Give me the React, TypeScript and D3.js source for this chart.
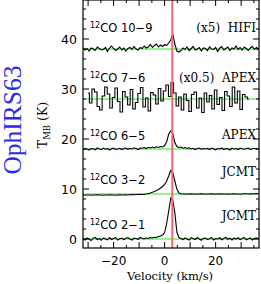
import React from 'react';
import * as d3 from 'd3';

// channel grids (km/s)
const V0 = -32;
const DV = 0.8;
const V0_76 = -30;
const DV_76 = 1.0;

const offsets = [38, 28, 18, 9, 0];

const co109 = [
  0.3, -0.2, 0.1, -0.4, 0.2, 0.0, -0.3, 0.4, 0.1, -0.2,
  -0.1, 0.3, -0.5, 0.2, 0.6, 0.1, -0.3, 0.0, 0.4, -0.2,
  0.2, -0.4, 0.1, 0.3, -0.1, 0.5, 0.0, -0.2, 0.3, 0.1,
  0.6, 0.2, 0.4, 0.9, 0.3, 0.7, 1.0, 0.4, 0.8, 0.5,
  0.9, 0.7, 1.2, 1.8, 3.0, 1.0, -0.4, -0.6, -0.3, 0.2,
  -0.1, 0.4, -0.3, 0.1, 0.5, -0.2, 0.0, 0.3, -0.4, 0.2,
  0.1, -0.3, 0.4, 0.0, -0.1, 0.3, -0.5, 0.2, 0.5, -0.2,
  0.1, 0.4, -0.3, 0.2, 0.0, 0.6, -0.1, 0.3, -0.2, 0.4,
  0.1, -0.3, 0.2, 0.5, -0.1, 0.3, 0.0,
];

const co76 = [
  1.2, -0.8, 2.0, 1.4, -1.5, -2.2, 0.6, 2.4, 1.0, -1.8,
  0.3, 2.2, -0.5, -2.6, 1.5, 0.4, -1.2, 1.9, -2.0, -0.7,
  1.1, 2.3, -1.6, 0.2, -2.4, 1.3, 0.8, -1.0, 2.1, -0.4,
  1.6, 2.8, 0.5, 3.3, 1.2, -1.4, 0.4, -2.2, 1.0, -0.3,
  -2.5, 0.9, 1.4, -1.8, 0.2, -2.7, 1.2, -0.6, 0.7, -2.0,
  1.8, -1.1, 0.3, -2.3, 1.5, 0.6, -1.5, 2.4, -0.8, 1.6,
  -2.1, 0.9, 0.4, 0.0,
];

const co65 = [
  -0.1, 0.1, 0.0, -0.2, 0.1, 0.05, -0.15, 0.2, 0.0, -0.1,
  0.15, -0.05, 0.1, -0.2, 0.05, 0.2, -0.1, 0.0, 0.15, -0.1,
  0.1, 0.2, -0.05, 0.15, 0.0, 0.25, 0.1, -0.1, 0.2, 0.15,
  0.3, 0.1, 0.35, 0.2, 0.4, 0.25, 0.45, 0.3, 0.5, 0.4,
  0.7, 1.4, 3.0, 3.6, 3.1, 1.3, 0.5, 0.3, 0.4, 0.15,
  0.3, 0.1, 0.25, 0.0, 0.15, -0.1, 0.1, 0.2, -0.05, 0.1,
  0.0, 0.15, -0.1, 0.2, 0.05, -0.15, 0.1, 0.0, 0.2, -0.1,
  0.1, 0.05, -0.2, 0.15, 0.0, 0.1, -0.1, 0.2, 0.05, -0.05,
  0.1, 0.2, -0.1, 0.05, 0.15, 0.0, 0.1,
];

const co32 = [
  -0.2, -0.25, -0.2, -0.2, -0.25, -0.2, -0.2, -0.15, -0.2, -0.2,
  -0.25, -0.2, -0.2, -0.15, -0.2, -0.2, -0.25, -0.2, -0.15, -0.2,
  -0.2, -0.15, -0.2, -0.15, -0.1, -0.15, -0.1, -0.1, -0.05, -0.1,
  -0.05, 0.0, 0.1, 0.2, 0.35, 0.5, 0.7, 0.9, 1.2, 1.5,
  1.9, 2.6, 3.6, 4.7, 4.3, 2.6, 1.0, 0.2, 0.05, 0.0,
  0.0, -0.05, 0.0, 0.05, 0.0, -0.05, 0.0, 0.0, 0.05, 0.0,
  -0.05, 0.0, 0.0, 0.05, 0.0, -0.05, 0.0, 0.05, 0.0, 0.0,
  0.0, -0.05, 0.0, 0.0, 0.05, 0.0, 0.0, -0.05, 0.0, 0.05,
  0.05, 0.0, 0.05, 0.0, 0.05, 0.1, 0.05,
];

const co21 = [
  0.1, -0.2, 0.2, 0.0, -0.3, 0.15, 0.3, -0.1, 0.1, -0.25,
  0.2, 0.0, -0.15, 0.3, -0.1, 0.1, 0.25, -0.2, 0.05, 0.2,
  -0.1, 0.15, 0.3, 0.0, -0.2, 0.2, 0.1, -0.05, 0.3, 0.15,
  0.0, 0.25, 0.1, 0.3, 0.2, 0.35, 0.3, 0.5, 0.6, 0.8,
  1.3, 3.1, 5.6, 8.2, 7.7, 5.3, 1.4, 0.3, 0.1, -0.1,
  0.2, 0.0, -0.2, 0.25, 0.1, -0.1, 0.3, 0.0, -0.25, 0.15,
  0.2, -0.1, 0.05, 0.3, -0.2, 0.1, 0.0, 0.25, -0.15, 0.1,
  0.3, -0.05, 0.15, -0.2, 0.2, 0.0, 0.25, -0.1, 0.1, 0.3,
  -0.15, 0.05, 0.2, -0.2, 0.1, 0.25, 0.0,
];

const lineNames = ['10\u22129', '7\u22126', '6\u22125', '3\u22122', '2\u22121'];
const telescopes = ['(x5)  HIFI', '(x0.5)  APEX', 'APEX', 'JCMT', 'JCMT'];
const yTicks = [0, 10, 20, 30, 40];
const xTicks = [-20, 0, 20];
const vSource = 3;

const W = 261;
const H = 284;
const plot = { left: 83, right: 259, top: 0, bottom: 248 };

const SANS = "'DejaVu Sans', Arial, sans-serif";
const SERIF = "'DejaVu Serif', 'Liberation Serif', serif";

export default function App() {
  const x = d3.scaleLinear().domain([-32, 37]).range([plot.left, plot.right]);
  const y = d3.scaleLinear().domain([-1.8, 47.8]).range([plot.bottom, plot.top]);

  const gridSpectra = [co109, co65, co32, co21];
  const gridOffsets = [offsets[0], offsets[2], offsets[3], offsets[4]];

  const line = d3
    .line<[number, number]>()
    .x((d) => x(d[0]))
    .y((d) => y(d[1]));

  const step = d3
    .line<[number, number]>()
    .curve(d3.curveStep)
    .x((d) => x(d[0]))
    .y((d) => y(d[1]));

  const gridPaths = gridSpectra.map((s, k) =>
    line(s.map((t, i) => [V0 + DV * i, t + gridOffsets[k]] as [number, number]))
  );
  const path76 = step(co76.map((t, i) => [V0_76 + DV_76 * i, t + offsets[1]] as [number, number]));

  const yMinor = d3.range(0, 48, 2);
  const xMinor = d3.range(-30, 37, 5);

  const labelY = [32, 82, 140, 184, 229];
  const telY = [32, 82, 139, 176, 220];

  return (
    <svg
      width={W}
      height={H}
      style={{ position: 'absolute', left: 0, top: 0, background: '#fff' }}
    >
      <defs>
        <clipPath id="plotclip">
          <rect x={plot.left} y={plot.top} width={plot.right - plot.left} height={plot.bottom - plot.top} />
        </clipPath>
      </defs>

      {/* baselines */}
      {offsets.map((o, i) => (
        <line key={'b' + i} x1={plot.left} x2={plot.right} y1={y(o)} y2={y(o)} stroke="#22ee22" strokeWidth={1.2} />
      ))}

      {/* spectra */}
      <g clipPath="url(#plotclip)" fill="none" stroke="#000" strokeWidth={1.1}>
        {gridPaths.map((p, i) => (
          <path key={'s' + i} d={p ?? ''} />
        ))}
        <path d={path76 ?? ''} />
      </g>

      {/* source velocity */}
      <line x1={x(vSource)} x2={x(vSource)} y1={plot.top} y2={plot.bottom} stroke="#f46a6a" strokeWidth={2} />

      {/* frame */}
      <rect
        x={plot.left}
        y={plot.top}
        width={plot.right - plot.left}
        height={plot.bottom - plot.top}
        fill="none"
        stroke="#000"
        strokeWidth={1.2}
      />

      {/* y ticks */}
      {yMinor.map((t) => {
        const len = t % 10 === 0 ? 6 : 3;
        return (
          <g key={'yt' + t} stroke="#000" strokeWidth={1}>
            <line x1={plot.left} x2={plot.left + len} y1={y(t)} y2={y(t)} />
            <line x1={plot.right} x2={plot.right - len} y1={y(t)} y2={y(t)} />
          </g>
        );
      })}
      {yTicks.map((t) => (
        <text key={'yl' + t} x={77} y={y(t) + 4.5} textAnchor="end" fontFamily={SANS} fontSize={12.5}>
          {t}
        </text>
      ))}

      {/* x ticks */}
      {xMinor.map((t) => {
        const len = t % 10 === 0 ? 6 : 3;
        return (
          <g key={'xt' + t} stroke="#000" strokeWidth={1}>
            <line x1={x(t)} x2={x(t)} y1={plot.bottom} y2={plot.bottom - len} />
            <line x1={x(t)} x2={x(t)} y1={plot.top} y2={plot.top + len} />
          </g>
        );
      })}
      {xTicks.map((t) => (
        <text key={'xl' + t} x={x(t)} y={265} textAnchor="middle" fontFamily={SANS} fontSize={12}>
          {t < 0 ? '\u2212' + Math.abs(t) : t}
        </text>
      ))}

      {/* axis titles */}
      <text x={170} y={280} textAnchor="middle" fontFamily={SERIF} fontSize={11.5}>
        Velocity (km/s)
      </text>
      <text
        transform={`translate(47,125) rotate(-90)`}
        textAnchor="middle"
        fontFamily={SERIF}
        fontSize={12.5}
      >
        T<tspan fontSize={8.5} dy={3}>MB</tspan>
        <tspan dy={-3}> (K)</tspan>
      </text>
      <text
        transform={`translate(21,120) rotate(-90)`}
        textAnchor="middle"
        fontFamily="'Liberation Serif', 'Times New Roman', serif"
        fontSize={25.5}
        fill="#2b2bf0"
      >
        OphIRS63
      </text>

      {/* panel labels */}
      {lineNames.map((n, i) => (
        <text key={'ln' + i} x={90} y={labelY[i]} fontFamily={SANS} fontSize={11.5}>
          <tspan fontSize={8} dy={-4}>12</tspan>
          <tspan dy={4}>CO  {n}</tspan>
        </text>
      ))}
      {telescopes.map((t, i) => (
        <text
          key={'tl' + i}
          x={256}
          y={telY[i]}
          textAnchor="end"
          fontFamily={SERIF}
          fontSize={12}
          style={{ whiteSpace: 'pre' }}
        >
          {t}
        </text>
      ))}
    </svg>
  );
}
